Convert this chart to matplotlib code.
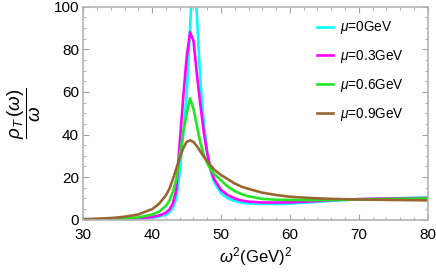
import matplotlib
matplotlib.use('Agg')
import matplotlib.pyplot as plt
from matplotlib.ticker import MultipleLocator

plt.rcParams['font.family'] = ['Liberation Sans', 'DejaVu Sans']
plt.rcParams['mathtext.fontset'] = 'custom'
plt.rcParams['mathtext.rm'] = 'Liberation Sans'
plt.rcParams['mathtext.it'] = 'Liberation Sans:italic'

# omega^2 grid (GeV^2)
w2 = [30, 32, 34, 36, 38, 40, 41, 42, 42.5, 43, 43.5, 44, 44.5, 45, 45.5, 46,
      46.5, 47, 47.5, 48, 48.5, 49, 50, 51, 52, 53, 54, 56, 58, 60, 63, 66,
      70, 75, 80]

rho_mu00 = [0.03, 0.06, 0.1, 0.2, 0.4, 0.9, 1.5, 2.4, 3.5, 5.5, 10, 22, 40, 58,
            90, 125, 95, 65, 45, 32, 23, 17.5, 12.5, 10, 8.8, 8, 7.7, 7.4, 7.4,
            7.6, 8.2, 8.9, 9.6, 10.1, 10.4]
rho_mu03 = [0.05, 0.1, 0.15, 0.3, 0.6, 1.3, 2, 3.3, 4.8, 7.5, 14, 36, 57, 76,
            88, 84, 68, 54, 41, 31, 23.5, 19, 14, 11.5, 10, 9, 8.5, 8.1, 8.1,
            8.2, 8.6, 9.2, 9.7, 10, 10.2]
rho_mu06 = [0.1, 0.2, 0.3, 0.6, 1.1, 2.4, 3.8, 6.5, 9, 13, 19, 30, 41, 49.5,
            57, 52, 44, 36, 30.5, 26.5, 23.5, 21.5, 18.5, 15.5, 13.5, 12, 11,
            9.8, 9.4, 9.3, 9.2, 9.3, 9.5, 9.8, 10]
rho_mu09 = [0.3, 0.5, 0.8, 1.4, 2.5, 5, 7.5, 11.5, 14.5, 19, 24, 29, 33.5, 36.5,
            37.3, 36.5, 34.5, 32, 29.5, 27.5, 25.5, 23.5, 21, 19, 17, 15.5,
            14.5, 12.7, 11.6, 10.8, 10.2, 9.8, 9.5, 9.3, 9.1]

labels = [r'$\mu$=0GeV', r'$\mu$=0.3GeV', r'$\mu$=0.6GeV', r'$\mu$=0.9GeV']
colors = ['#00ffff', '#ff00ff', '#22e622', '#996633']

fig = plt.figure(figsize=(4.36, 2.73), dpi=100)
ax = fig.add_axes([0.191, 0.195, 0.790, 0.7805])

for y, c, lab in zip([rho_mu00, rho_mu03, rho_mu06, rho_mu09], colors, labels):
    ax.plot(w2, y, color=c, lw=1.9, label=lab, solid_joinstyle='round')

ax.set_xlim(30, 80)
ax.set_ylim(0, 100)
ax.xaxis.set_major_locator(MultipleLocator(10))
ax.xaxis.set_minor_locator(MultipleLocator(2))
ax.yaxis.set_major_locator(MultipleLocator(20))
ax.yaxis.set_minor_locator(MultipleLocator(5))
ax.tick_params(which='both', direction='in', top=True, right=True,
               color='#a0a0a0', labelsize=11)
ax.tick_params(axis='x', which='major', pad=6)
ax.tick_params(axis='y', which='major', pad=3)
ax.tick_params(which='major', length=4, width=0.8)
ax.tick_params(which='minor', length=2, width=0.6)
for s in ax.spines.values():
    s.set_color('#b4b4b4')
    s.set_linewidth(1.2)

ax.set_xlabel(r'$\omega^2$(GeV)$^2$', fontsize=12, labelpad=2)
ax.set_ylabel(r'$\dfrac{\rho_T\,(\omega)}{\omega}$', fontsize=13.5)
ax.yaxis.set_label_coords(-0.117, 0.5)

ax.legend(loc='upper left', bbox_to_anchor=(0.679, 0.94), frameon=False,
          fontsize=9.8, handlelength=1.2, handletextpad=0.5, labelspacing=0.86,
          borderpad=0, borderaxespad=0)

plt.savefig('out.png', dpi=100)
